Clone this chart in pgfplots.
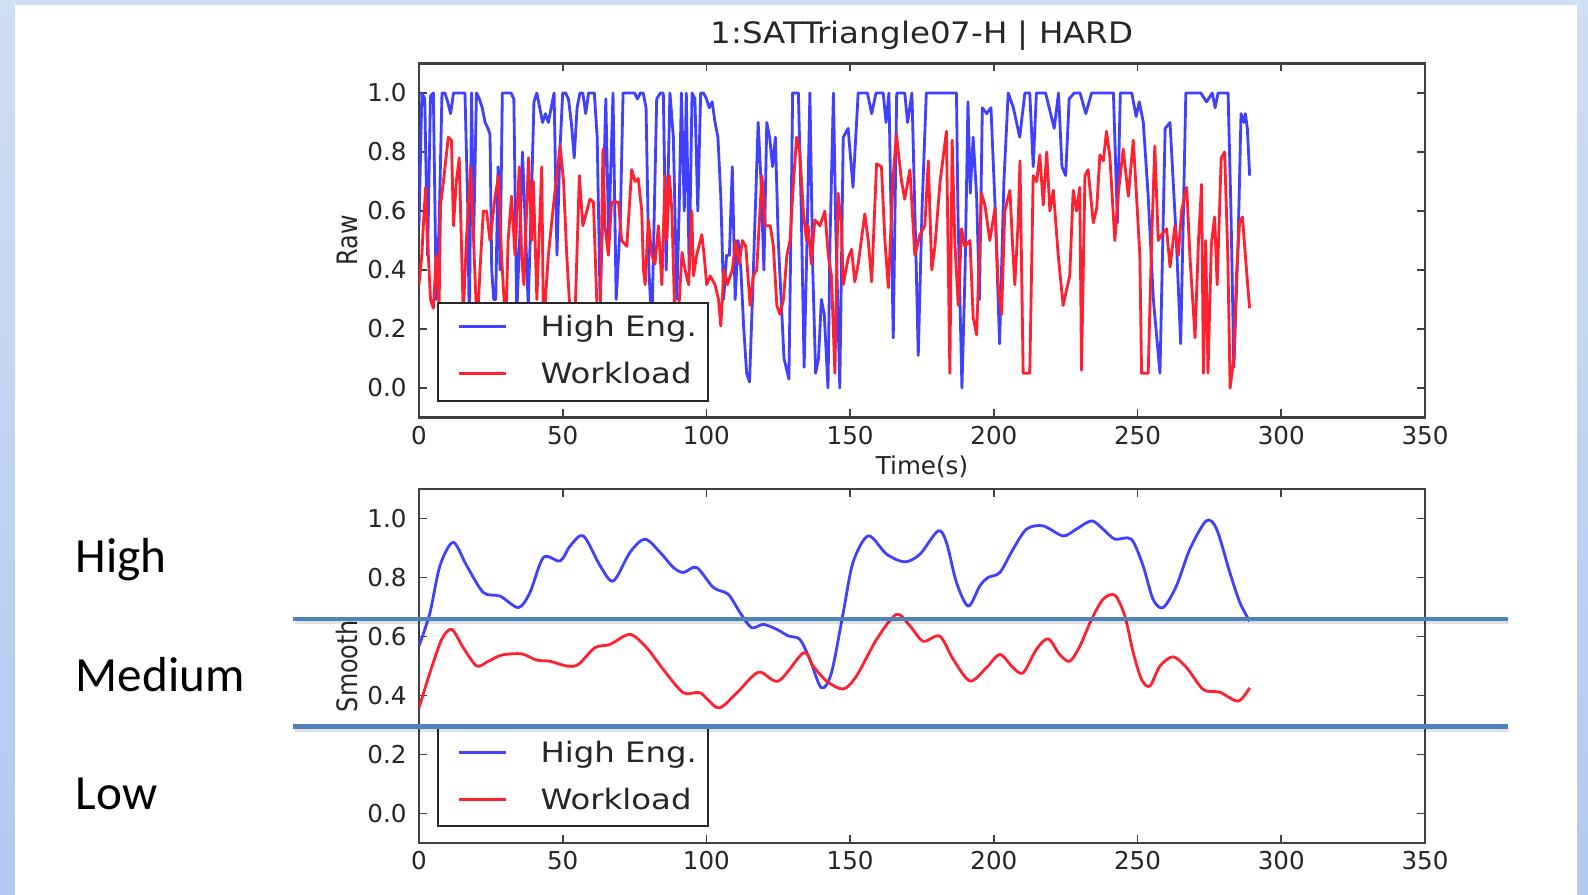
\documentclass[border=0pt]{standalone}
\usepackage{fontspec}
\setmainfont{DejaVu Sans}
\newfontfamily\titlefont[FakeStretch=1.1]{DejaVu Sans}
\newfontfamily\legfont[FakeStretch=1.15]{DejaVu Sans}
\newfontfamily\ylabfont[FakeStretch=0.85]{DejaVu Sans}
\newfontfamily\slidefont{Carlito}
\usepackage{pgfplots}
\pgfplotsset{compat=1.18}

\definecolor{mplblue}{RGB}{64,64,255}
\definecolor{mplred}{RGB}{255,32,48}
\definecolor{sepblue}{RGB}{79,129,189}
\definecolor{slidebg}{RGB}{206,222,244}
\definecolor{slidebgd}{RGB}{178,202,240}

\pgfplotsset{
  every axis title/.style={at={(0.5,1)}, anchor=base, yshift=2.0mm},
  panel/.style={
    scale only axis, width=100.6mm, height=35.4mm,
    xmin=0, xmax=350, ymin=-0.1, ymax=1.1,
    xtick={0,50,100,150,200,250,300,350},
    ytick={0,0.2,0.4,0.6,0.8,1.0},
    tick align=inside, tick pos=both, major tick length=0.8mm,
    axis line style={black!75, line width=0.7pt},
    tick style={black!75, line width=0.5pt},
    ticklabel style={font=\fontsize{7}{8}\selectfont, text=black!85},
    /pgf/number format/assume math mode=true,
    xticklabel style={/pgf/number format/fixed, yshift=0.4mm},
    yticklabel style={/pgf/number format/fixed, /pgf/number format/fixed zerofill, /pgf/number format/precision=1},
    ylabel style={font=\ylabfont\fontsize{8}{9}\selectfont, text=black!85, at={(axis description cs:-0.0716,0.5)}, anchor=center},
    legend cell align=left,
    legend style={at={(axis description cs:0.018,0.044)}, anchor=south west,
      font=\legfont\fontsize{8}{9.5}\selectfont, text=black!85,
      draw=black!85, line width=0.6pt, fill=white,
      inner xsep=1.1mm, inner ysep=0.4mm, row sep=0.4mm,
      nodes={inner xsep=0pt, inner ysep=0.6mm, text height=2.4mm, text depth=0.7mm},
      /tikz/every odd column/.append style={column sep=3.3mm}},
    legend image code/.code={\path[draw=none] (0mm,0.15mm) -- (1mm,0.15mm); \draw[##1] (1.0mm,0.15mm) -- (5.7mm,0.15mm);},
    every axis plot/.append style={line width=0.8pt, line join=round},
  }
}

\begin{document}
\begin{tikzpicture}
% slide background
\begin{scope}[x=0.1mm, y=-0.1mm]
  \path[use as bounding box] (0,0) rectangle (1588,895);
  \fill[slidebg] (0,0) rectangle (1588,895);
  \shade[top color=slidebg, bottom color=slidebgd] (0,0) rectangle (15,895);
  \shade[top color=slidebg, bottom color=slidebgd] (1577,0) rectangle (1588,895);
  \fill[white] (15,5) rectangle (1577,895);
\end{scope}

% raw signals
\begin{axis}[panel, at={(41.9mm,-41.75mm)}, anchor=south west,
  title={1:SATTriangle07-H | HARD},
  title style={font=\titlefont\fontsize{8.4}{10}\selectfont, text=black!85},
  xlabel={Time(s)},
  xlabel style={font=\fontsize{7}{8}\selectfont, text=black!85, at={(axis description cs:0.5,0)}, anchor=base, yshift=-5.7mm},
  ylabel={Raw}]
\addplot[mplblue] coordinates {
(0,0.55) (1,1.0) (2,0.98) (3,0.45) (4,0.99) (5,1.0) (6,0.3) (7,0.55) (8,1.0) (9,1.0) (10,0.97) (11,0.93) (12,1.0) (13,1.0) (14,1.0) (15,1.0) (16,1.0) (17,0.6) (17.5,0.2) (18.3,1.0) (19,0.5) (20,1.0) (21,0.98) (22,0.95) (23,0.9) (24,0.88) (24.7,0.86) (25.3,0.4) (26,0.3) (26.7,0.3) (27.5,0.75) (28.2,0.4) (29,1.0) (30,1.0) (31,1.0) (32,1.0) (33,0.98) (34,0.25) (35,0.5) (36,0.8) (37,0.55) (38,0.28) (39,0.6) (40,0.97) (41,1.0) (42,0.95) (43,0.9) (44,0.93) (45,0.9) (46,0.95) (47,1.0) (48,0.45) (49,0.8) (50,1.0) (51,1.0) (52,0.98) (53,0.9) (54,0.78) (55,0.95) (56,1.0) (57,1.0) (58,0.93) (59,1.0) (60,1.0) (61,1.0) (62,0.85) (63,0.3) (64,0.6) (65,0.98) (66,0.5) (67.5,1.0) (68.6,0.3) (70,0.55) (71,1.0) (72,1.0) (73,1.0) (74,1.0) (75,1.0) (76,0.98) (77,1.0) (78,1.0) (79,0.95) (80,0.4) (81,0.2) (82.7,0.98) (84,1.0) (85,1.0) (86,0.4) (87.3,1.0) (88.5,0.85) (89.7,0.3) (90.5,0.6) (91.3,1.0) (92.3,0.6) (93,1.0) (94,0.4) (95,1.0) (96,0.98) (97,0.6) (98,1.0) (99,1.0) (100,0.98) (101,0.95) (102,0.97) (103,0.9) (104,0.85) (105,0.65) (106,0.3) (107,0.45) (108,0.45) (109,0.75) (110,0.3) (111,0.5) (112,0.4) (113,0.2) (114,0.05) (115,0.02) (116,0.3) (117,0.6) (118,0.9) (119,0.7) (120,0.4) (121,0.9) (122,0.85) (123,0.75) (124,0.85) (125,0.5) (126,0.3) (127,0.1) (128.7,0.03) (129.5,0.6) (130,1.0) (131,1.0) (132,1.0) (133,0.6) (134,0.07) (135,0.5) (136,1.0) (137,0.4) (138,0.05) (139,0.1) (140,0.3) (141,0.25) (142.3,0.0) (143,0.5) (144.2,1.0) (145,0.55) (146.4,0.0) (147.6,0.85) (149.3,0.88) (151,0.68) (152.8,1.0) (154,1.0) (155,1.0) (156,1.0) (157.5,0.93) (159,1.0) (161.5,1.0) (162.5,0.9) (163.5,1.0) (165,0.17) (166.2,1.0) (168,1.0) (169,1.0) (170,0.9) (171.5,1.0) (173,0.41) (173.7,0.11) (175,0.6) (176.5,1.0) (178,1.0) (180,1.0) (182,1.0) (184,1.0) (186,1.0) (187,1.0) (187.5,0.6) (188.9,0.0) (190,0.4) (191,0.97) (191.8,0.66) (192.8,0.85) (194,0.65) (195,0.3) (196,0.95) (197.5,0.93) (199,0.95) (200.5,0.6) (202,0.15) (203.5,0.7) (205,1.0) (206.8,0.95) (209,0.85) (210.8,1.0) (212.5,1.0) (213.7,0.75) (214.8,1.0) (218,1.0) (221,0.88) (222.5,1.0) (223.7,0.75) (225,0.72) (226.2,0.98) (228,1.0) (230,1.0) (232,0.93) (234,1.0) (236,1.0) (238,1.0) (240,1.0) (241.6,1.0) (243,0.56) (244,1.0) (246,1.0) (248,1.0) (249.5,0.92) (250.6,0.97) (252,0.9) (253.7,0.65) (255.5,0.3) (257.8,0.05) (259.6,0.88) (261.3,0.9) (263.5,0.5) (265,0.15) (266.8,1.0) (270,1.0) (272,1.0) (274,0.97) (276,1.0) (277,0.95) (278,1.0) (280,1.0) (281.5,1.0) (282.5,0.6) (283.5,0.07) (285,0.5) (286,0.93) (287,0.9) (287.5,0.93) (288.2,0.88) (289,0.72)
};
\addlegendentry{High Eng.}
\addplot[mplred] coordinates {
(0,0.35) (1,0.45) (1.5,0.55) (2.3,0.68) (3,0.5) (4,0.3) (5,0.27) (6,0.45) (7,0.28) (7.5,0.62) (8.5,0.7) (10.2,0.85) (11.3,0.84) (12,0.55) (13,0.7) (14,0.78) (15,0.4) (15.4,0.25) (16.5,0.5) (18,0.75) (19,0.5) (20.2,0.2) (21.5,0.45) (22.4,0.6) (23.5,0.6) (24.7,0.5) (26.5,0.65) (27.7,0.72) (28.7,0.45) (30.2,0.2) (31,0.5) (32.2,0.65) (33.4,0.45) (34.9,0.75) (35.7,0.45) (36.5,0.35) (38.1,0.78) (39.2,0.5) (39.8,0.7) (41,0.3) (42.7,0.75) (43.3,0.2) (45,0.45) (46.8,0.62) (49.1,0.82) (50.3,0.7) (51.4,0.45) (52.6,0.25) (54.3,0.25) (55.8,0.72) (57,0.55) (58.4,0.6) (59.5,0.64) (60.7,0.63) (61.9,0.28) (63,0.2) (64,0.81) (64.7,0.55) (65.9,0.45) (67,0.63) (68.2,0.63) (69.4,0.63) (70.5,0.5) (72.3,0.48) (74,0.74) (75.2,0.7) (76.3,0.71) (77.5,0.6) (78.1,0.4) (78.7,0.35) (79.8,0.57) (81,0.45) (82.1,0.42) (83.3,0.55) (84.5,0.35) (85.6,0.72) (86.2,0.5) (87.1,0.72) (88,0.6) (89.1,0.2) (90.3,0.25) (91.5,0.46) (92.6,0.4) (93.8,0.35) (94.9,0.6) (95.5,0.38) (96.6,0.45) (98.4,0.52) (99.2,0.45) (100.1,0.35) (101.3,0.38) (103,0.35) (104.2,0.3) (105,0.21) (106.1,0.4) (107.3,0.35) (109,0.4) (110.2,0.5) (111.4,0.42) (112.5,0.5) (113.7,0.48) (115.2,0.28) (116.3,0.38) (117.5,0.4) (119.3,0.72) (120.5,0.55) (122.2,0.55) (123.3,0.48) (124.5,0.28) (125.6,0.25) (126.8,0.3) (128,0.45) (129.1,0.5) (130.3,0.7) (131.4,0.85) (132.5,0.8) (133.7,0.6) (134.8,0.5) (135.4,0.55) (136.5,0.42) (137.7,0.57) (139.5,0.55) (141.2,0.6) (142.4,0.45) (143.5,0.38) (144.7,0.05) (145.8,0.66) (147,0.55) (147.6,0.35) (149.3,0.44) (150.5,0.47) (151.6,0.36) (152.8,0.42) (155.1,0.59) (156.3,0.5) (157.5,0.36) (159.2,0.76) (160.9,0.75) (162.1,0.5) (163.3,0.34) (165,0.72) (166.1,0.86) (167.9,0.7) (169,0.64) (170.8,0.74) (172.5,0.45) (174.3,0.52) (176,0.55) (177.2,0.77) (178.4,0.4) (179.5,0.48) (181.3,0.7) (183.5,0.87) (184.7,0.05) (185.5,0.84) (186.4,0.5) (187.6,0.28) (188.8,0.54) (189.9,0.48) (191.7,0.5) (192.8,0.24) (194,0.18) (195.7,0.66) (196.9,0.62) (198.6,0.5) (200.4,0.61) (201.5,0.35) (202.7,0.25) (203.8,0.6) (205.6,0.67) (206.7,0.45) (207.3,0.35) (208.5,0.57) (209.1,0.77) (210.2,0.05) (212.5,0.05) (213.7,0.72) (214.9,0.7) (216,0.79) (217.2,0.62) (218.4,0.8) (219.5,0.6) (220.7,0.67) (222.4,0.45) (224.1,0.28) (226.4,0.38) (227.6,0.67) (228.8,0.6) (229.9,0.68) (230.5,0.06) (231.7,0.72) (232.8,0.74) (234.6,0.56) (235.8,0.61) (236.9,0.79) (238.1,0.77) (239.2,0.87) (240.4,0.78) (241.6,0.58) (242.1,0.5) (243.3,0.66) (245,0.81) (246.8,0.65) (248.5,0.84) (249.7,0.64) (250.8,0.45) (251.4,0.05) (253.7,0.05) (254.9,0.5) (256,0.82) (257.2,0.5) (258.4,0.52) (260.1,0.54) (261.3,0.41) (263,0.55) (264.2,0.45) (265.3,0.6) (267.1,0.68) (268.2,0.45) (270,0.17) (271.2,0.5) (272.3,0.69) (272.9,0.05) (273.7,0.5) (274.5,0.05) (275.7,0.49) (276.8,0.58) (277.7,0.35) (279.1,0.78) (280.3,0.8) (281.4,0.45) (282.2,0.0) (283.5,0.1) (284.5,0.4) (285.5,0.56) (286.5,0.58) (287.5,0.45) (288.3,0.35) (289,0.27)
};
\addlegendentry{Workload}
\end{axis}

% smoothed signals
\begin{axis}[panel, at={(41.9mm,-84.3mm)}, anchor=south west, ylabel={Smooth}]
\addplot[mplblue, smooth, tension=0.5] coordinates {
(0,0.567) (3.8,0.68) (7.3,0.84) (11.9,0.919) (16.6,0.84) (22.4,0.749) (28.2,0.737) (34.6,0.698) (38.6,0.749) (43.3,0.868) (49.1,0.856) (52.6,0.907) (57.2,0.941) (63,0.84) (67.6,0.788) (73.4,0.885) (78.6,0.93) (83.9,0.885) (88.5,0.834) (92,0.817) (96.6,0.834) (102.4,0.766) (107.6,0.743) (111.7,0.681) (115.7,0.63) (119.8,0.641) (124.5,0.624) (128.5,0.602) (132.5,0.59) (136,0.522) (140,0.426) (143.5,0.477) (147.6,0.681) (151,0.851) (156.3,0.941) (162.7,0.879) (169,0.853) (174.3,0.879) (180.6,0.958) (183.5,0.919) (187,0.783) (191.1,0.703) (195.1,0.771) (198,0.80) (202.1,0.817) (206.7,0.896) (211.4,0.964) (217.1,0.975) (224.1,0.941) (228.7,0.964) (234,0.992) (238,0.964) (242.1,0.93) (247.8,0.93) (251.9,0.84) (255.4,0.726) (258.9,0.698) (263.5,0.771) (268.2,0.896) (273.9,0.992) (277.5,0.964) (282.1,0.817) (285.6,0.715) (289,0.652)
};
\addlegendentry{High Eng.}
\addplot[mplred, smooth, tension=0.5] coordinates {
(0,0.358) (3.8,0.477) (7.9,0.59) (11.4,0.624) (15.4,0.562) (20.1,0.5) (24.1,0.516) (28.8,0.537) (35.7,0.541) (40.9,0.52) (45.6,0.516) (51.4,0.5) (55.4,0.505) (61.2,0.562) (66.4,0.573) (73.4,0.607) (79.2,0.562) (85,0.488) (92,0.409) (97.8,0.409) (104.2,0.358) (110.6,0.409) (118.1,0.479) (125.1,0.449) (133.8,0.545) (137.1,0.5) (141.8,0.449) (147.6,0.422) (152.2,0.466) (159.2,0.59) (166.1,0.675) (170.8,0.636) (175.4,0.584) (181.2,0.601) (185.9,0.522) (191.7,0.449) (197.4,0.494) (202.1,0.539) (206.7,0.494) (210.2,0.477) (214.8,0.556) (218.9,0.592) (222.9,0.539) (226.4,0.516) (229.9,0.567) (234,0.658) (238,0.726) (242.1,0.74) (245.6,0.669) (248.5,0.545) (251.4,0.454) (254.3,0.432) (257.8,0.5) (262.4,0.531) (267.1,0.494) (272.9,0.42) (278.6,0.411) (285,0.381) (289,0.426)
};
\addlegendentry{Workload}
\end{axis}

% slide overlay: level separators and labels
\begin{scope}[x=0.1mm, y=-0.1mm]
  \draw[black, opacity=0.12, line width=0.35mm] (295,622.5) -- (1509,622.5);
  \draw[black, opacity=0.12, line width=0.35mm] (295,730) -- (1509,730);
  \draw[sepblue, line width=0.42mm] (293,619) -- (1508,619);
  \draw[sepblue, line width=0.42mm] (293,726.5) -- (1508,726.5);
  \node[anchor=base west, inner sep=0pt, font=\slidefont\fontsize{14}{16}\selectfont] at (75,573) {High};
  \node[anchor=base west, inner sep=0pt, font=\slidefont\fontsize{14}{16}\selectfont] at (75,692) {Medium};
  \node[anchor=base west, inner sep=0pt, font=\slidefont\fontsize{14}{16}\selectfont] at (75,810) {Low};
\end{scope}
\end{tikzpicture}
\end{document}
